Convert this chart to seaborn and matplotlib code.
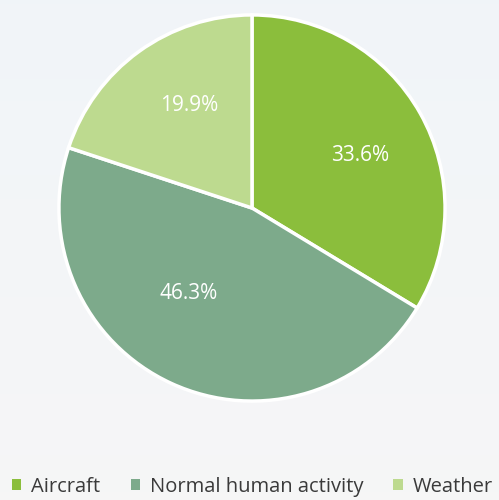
import numpy as np
import matplotlib
matplotlib.use("Agg")
import matplotlib.pyplot as plt
from matplotlib.patches import Patch
import seaborn as sns

categories = ["Aircraft", "Normal human activity", "Weather"]
shares = [33.6, 46.3, 19.9]
colors = ["#8BBE3C", "#7DAA8B", "#BDDA8F"]

# label placement per wedge: radial distance and angular nudge (degrees)
label_dist = [0.62, 0.55, 0.62]
label_nudge = [-3.5, -12.0, -4.5]

sns.set_theme(style="white")
plt.rcParams["font.family"] = ["Open Sans", "DejaVu Sans"]

fig = plt.figure(figsize=(4.99, 5.0), dpi=100)

# soft light backdrop
bg = fig.add_axes([0, 0, 1, 1], zorder=0)
grad = np.linspace(0, 1, 256)[:, None]
top = np.array([0.945, 0.960, 0.975])
bottom = np.array([0.965, 0.965, 0.968])
img = top[None, None, :] * (1 - grad[..., None]) + bottom[None, None, :] * grad[..., None]
img = np.repeat(img, 4, axis=1)
bg.imshow(img, aspect="auto", extent=[0, 1, 0, 1])
bg.set_axis_off()

ax = fig.add_axes([0.1142, 0.194, 0.7816, 0.78], zorder=1)
ax.set_facecolor("none")
wedges, texts = ax.pie(
    shares,
    colors=colors,
    startangle=90,
    counterclock=False,
    radius=1.0,
    normalize=True,
    wedgeprops=dict(edgecolor="white", linewidth=2.5),
)

# percentage labels carry the stated shares
for w, s, d, n in zip(wedges, shares, label_dist, label_nudge):
    theta = np.deg2rad((w.theta1 + w.theta2) / 2 + n)
    ax.text(d * np.cos(theta), d * np.sin(theta), f"{s:.1f}%",
            ha="center", va="center", color="white", fontsize=15)

ax.set_xlim(-1.01, 1.01)
ax.set_ylim(-1.01, 1.01)
ax.set_aspect("equal")
ax.axis("off")

handles = [Patch(facecolor=c, edgecolor="none") for c in colors]
leg = fig.legend(
    handles, categories,
    loc="lower left", bbox_to_anchor=(-0.012, -0.03),
    ncol=3, frameon=False, fontsize=14.5,
    handlelength=0.45, handleheight=0.45, handletextpad=0.5,
    columnspacing=1.5, labelcolor="#3A3A3A",
)

fig.savefig("out.png", dpi=100)
